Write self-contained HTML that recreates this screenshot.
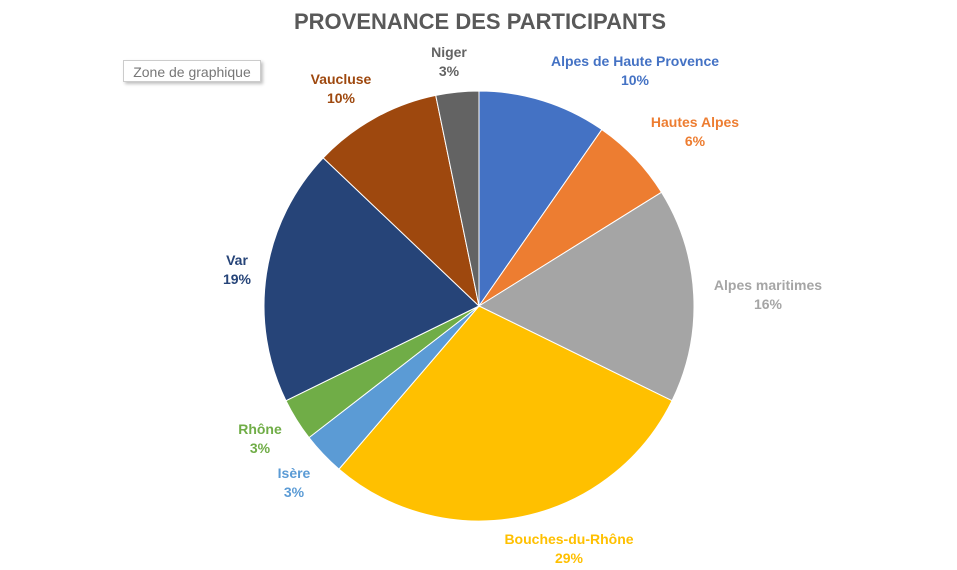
<!DOCTYPE html>
<html><head><meta charset="utf-8"><style>
body{margin:0;background:#fff;width:957px;height:570px;overflow:hidden;font-family:"Liberation Sans",sans-serif}
.tip{position:absolute;left:123px;top:60px;width:138px;height:22px;border:1px solid #ccc;background:#fff;color:#777;font-size:14px;line-height:22px;text-align:center;box-shadow:2px 2px 3px rgba(0,0,0,0.25);box-sizing:border-box}
</style></head><body>
<svg width="957" height="570" style="position:absolute;left:0;top:0">
<text x="480" y="29" text-anchor="middle" font-size="22" font-weight="bold" fill="#595959">PROVENANCE DES PARTICIPANTS</text>
<g id="slices"></g><g id="labels"></g>
</svg>
<div class="tip">Zone de graphique</div>
<script>
const categories=["Alpes de Haute Provence","Hautes Alpes","Alpes maritimes","Bouches-du-Rhône","Isère","Rhône","Var","Vaucluse","Niger"];
const values=[3,2,5,9,1,1,6,3,1];
const colors=["#4472c4","#ed7d31","#a5a5a5","#ffc000","#5b9bd5","#70ad47","#264478","#9e480e","#636363"];
const labelX=[635,695,768,569,294,260,237,341,449];
const labelY=[66,127,290,544,478,434,265,84,57];
const cx=479,cy=306,r=215,NS="http://www.w3.org/2000/svg";
const total=values.reduce((a,b)=>a+b,0);
const gs=document.getElementById('slices'),gl=document.getElementById('labels');
let acc=0;
function pt(f){const a=f*2*Math.PI;return [cx+r*Math.sin(a),cy-r*Math.cos(a)];}
values.forEach((v,i)=>{
  const f0=acc/total,f1=(acc+v)/total;acc+=v;
  const [x0,y0]=pt(f0),[x1,y1]=pt(f1);
  const p=document.createElementNS(NS,'path');
  p.setAttribute('d',`M${cx},${cy}L${x0},${y0}A${r},${r} 0 ${f1-f0>0.5?1:0} 1 ${x1},${y1}Z`);
  p.setAttribute('fill',colors[i]);p.setAttribute('stroke','#fff');p.setAttribute('stroke-width','1');
  
  
  gs.appendChild(p);
  const t=document.createElementNS(NS,'text');
  t.setAttribute('x',labelX[i]);t.setAttribute('y',labelY[i]);
  t.setAttribute('text-anchor','middle');t.setAttribute('font-size','14');t.setAttribute('font-weight','bold');
  t.setAttribute('fill',colors[i]);
  
  
  const a=document.createElementNS(NS,'tspan');a.setAttribute('x',labelX[i]);a.textContent=categories[i];
  const b=document.createElementNS(NS,'tspan');b.setAttribute('x',labelX[i]);b.setAttribute('dy','19');b.textContent=Math.round(v/total*100)+'%';
  t.appendChild(a);t.appendChild(b);gl.appendChild(t);
});
</script>
</body></html>
